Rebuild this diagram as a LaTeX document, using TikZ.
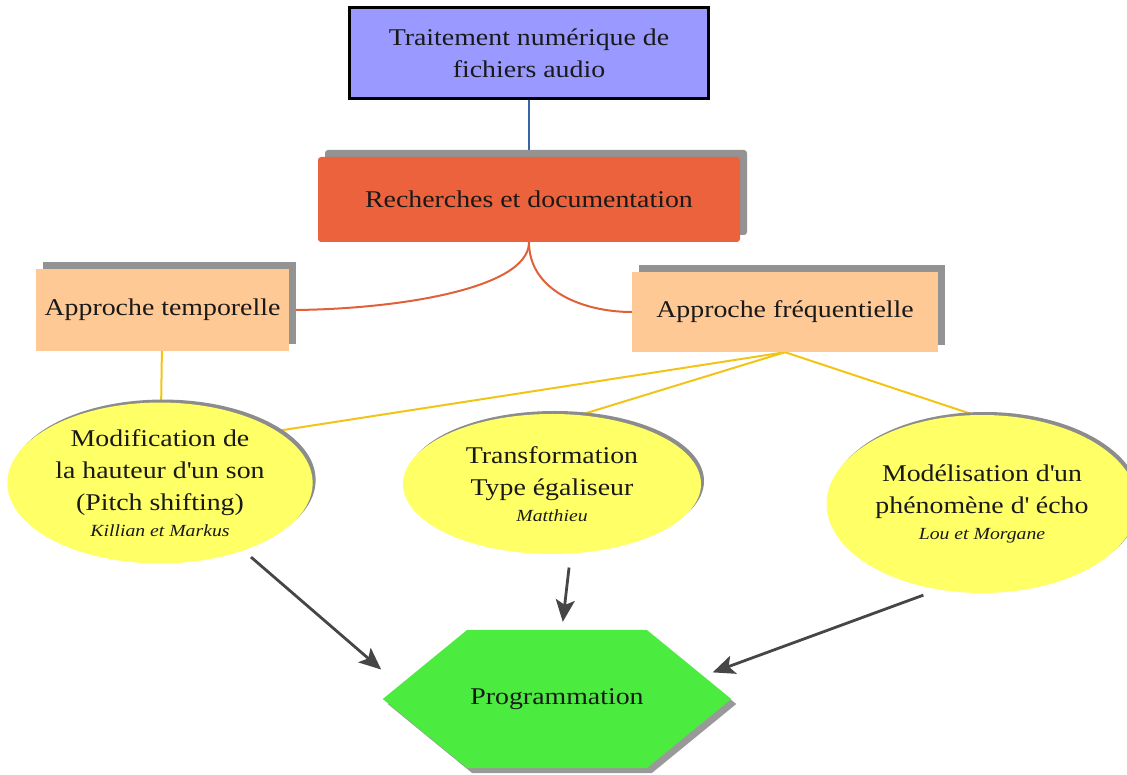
\documentclass[tikz,border=0pt]{standalone}
\usepackage{fontspec}
\setmainfont{Liberation Serif}[FakeStretch=1.16]
\usepackage{tikz}
\usetikzlibrary{arrows.meta, shapes.geometric, shapes.symbols, shadows, backgrounds}

\definecolor{topblue}{HTML}{9999FF}
\definecolor{researchred}{HTML}{EC623C}
\definecolor{peach}{HTML}{FFC995}
\definecolor{lemon}{HTML}{FFFF66}
\definecolor{hexgreen}{HTML}{4CEB40}
\definecolor{linkblue}{HTML}{3A64A8}
\definecolor{linkred}{HTML}{E0603A}
\definecolor{linkgold}{HTML}{F2C417}
\definecolor{arrowgray}{HTML}{464646}

\begin{document}
\begin{tikzpicture}[
  x=1pt, y=1pt,
  every node/.style={font=\fontsize{24}{32}\selectfont, text=black!90, align=center},
  boxshadow/.style={copy shadow={shadow xshift=7pt, shadow yshift=7pt, fill=gray!85, draw=none}},
  approach/.style={rectangle, fill=peach, boxshadow, minimum height=82pt},
  task/.style={ellipse, fill=lemon, copy shadow={shadow xshift=3pt, shadow yshift=3pt, fill=gray!90, draw=none}},
  link/.style={line width=2pt},
  arrow/.style={-{Stealth[length=22pt, width=19pt, inset=5pt]}, line width=2.8pt, arrowgray},
]
\useasboundingbox (0,0) rectangle (1127,774);

% Sujet et recherches
\node[rectangle, draw=black, line width=3pt, fill=topblue, minimum width=359pt, minimum height=91pt] (top) at (529,721) {Traitement numérique de\\fichiers audio};
\node[rectangle, rounded corners=3pt, fill=researchred, boxshadow, minimum width=422pt, minimum height=85pt] (research) at (529,574.5) {Recherches et documentation};

% Approches
\node[approach, minimum width=253pt] (temporal) at (162.5,464) {Approche temporelle};
\node[approach, minimum width=306pt, minimum height=80pt] (frequential) at (785,462) {Approche fréquentielle};

% Travaux
\node[task, minimum width=296pt, minimum height=145pt] (pitch) at (160,291) {Modification de\\la hauteur d\textquotesingle un son\\(Pitch shifting)\\[-6pt]{\fontsize{17}{20}\selectfont\itshape Killian et Markus}};
\node[task, minimum width=298pt, minimum height=140pt] (equalizer) at (552,290) {Transformation\\Type égaliseur\\[-6pt]{\fontsize{17}{20}\selectfont\itshape Matthieu}};
\node[task, minimum width=290pt, minimum height=178pt] (echo) at (982,270) {Modélisation d\textquotesingle un\\phénomène d\textquotesingle{} écho\\[-6pt]{\fontsize{17}{20}\selectfont\itshape Lou et Morgane}};

% Programmation
\node[signal, signal to=east and west, signal pointer angle=78.6, fill=hexgreen, minimum width=336pt, minimum height=138pt, copy shadow={shadow xshift=5pt, shadow yshift=-5pt, fill=gray!80, draw=none}] (programming) at (557,75) {Programmation};

% Liens
\begin{scope}[on background layer]
  \draw[linkblue, line width=1.5pt] (top) -- (research);
  \draw[link, linkred] (research.south) to[out=-90, in=0, out looseness=0.5] (temporal.east);
  \draw[link, linkred] (research.south) to[out=-90, in=180] (frequential.west);
  \draw[link, linkgold] (temporal) -- (pitch);
  \draw[link, linkgold] (frequential.south) -- (pitch.24);
  \draw[link, linkgold] (frequential.south) -- (equalizer.68);
  \draw[link, linkgold] (frequential.south) -- (echo.95);
\end{scope}

% Vers la programmation
\draw[arrow, shorten <=10pt, shorten >=24pt] (pitch.-39) -- (programming.175);
\draw[arrow, shorten <=14pt, shorten >=8pt] (equalizer.-75) -- (programming.86);
\draw[arrow, shorten <=16pt, shorten >=10pt] (echo.-117) -- (programming.9);

\end{tikzpicture}
\end{document}
